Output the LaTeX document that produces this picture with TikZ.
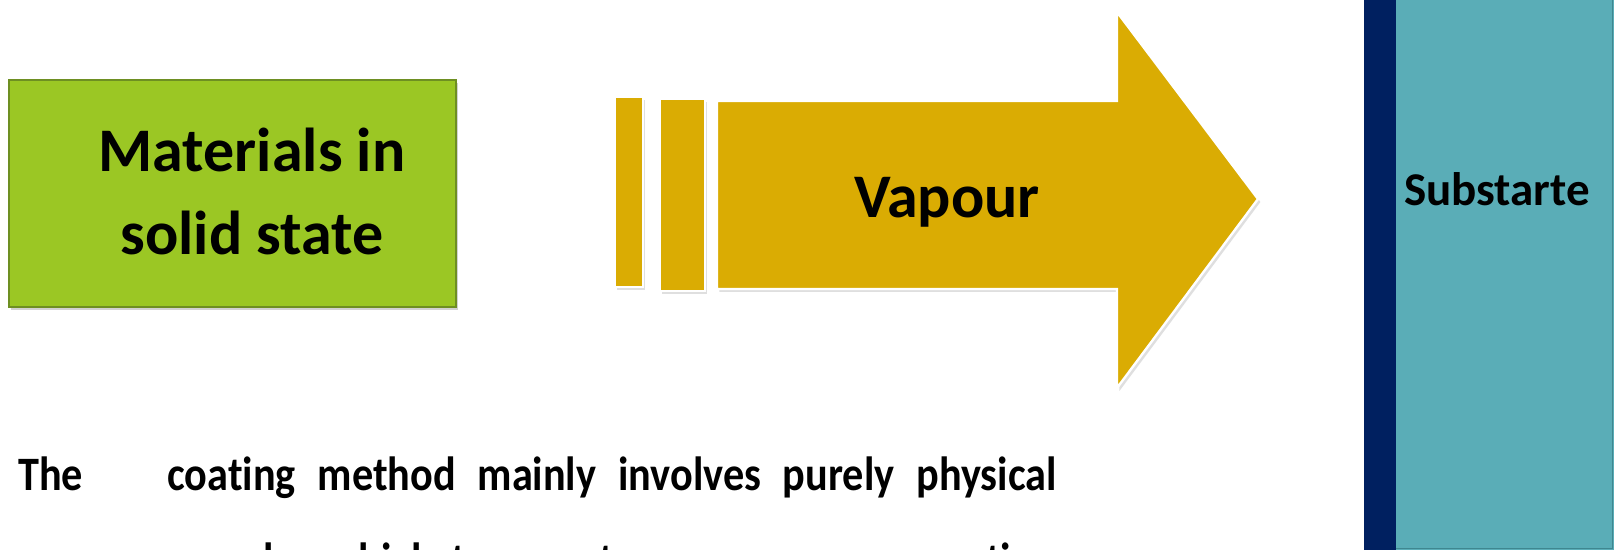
\documentclass[tikz,border=0pt]{standalone}
\usepackage{fontspec}
\setmainfont[Ligatures=NoCommon]{Carlito}
\newfontfamily\bodyfont[Ligatures=NoCommon,FakeStretch=0.88]{Carlito}
\usetikzlibrary{shadows}
\definecolor{greenfill}{HTML}{9BC724}
\definecolor{greenedge}{HTML}{6E8F22}
\definecolor{goldfill}{HTML}{DAAC03}
\definecolor{navyband}{HTML}{002060}
\definecolor{tealband}{HTML}{5AADB7}
\definecolor{tealedge}{HTML}{3F8790}
\begin{document}
\begin{tikzpicture}[x=0.5pt,y=-0.5pt,
  greenbox/.style={fill=greenfill,draw=greenedge,line width=1.2pt,
    drop shadow={shadow xshift=1pt,shadow yshift=-1.5pt,opacity=0.35}},
  goldshape/.style={fill=goldfill,draw=white,line width=1.2pt,
    drop shadow={shadow xshift=1.2pt,shadow yshift=-1.5pt,opacity=0.25}},
  bigtext/.style={font=\bfseries\fontsize{31}{36}\selectfont,anchor=base,inner sep=0pt},
  subtext/.style={font=\bfseries\fontsize{23.5}{28}\selectfont,anchor=base,inner sep=0pt},
  bodytext/.style={font=\bodyfont\bfseries\fontsize{24}{28}\selectfont,anchor=base west,inner sep=0pt}]
\useasboundingbox (0,0) rectangle (1614,550);
\clip (0,0) rectangle (1614,550);
\fill[white] (0,0) rectangle (1614,550);
% green box
\path[greenbox] (9,80) rectangle (456,307);
\node[bigtext] (mat1) at (252,172) {Materials in};
\node[bigtext] (mat2) at (252,255) {solid state};
% arrow
\path[goldshape] (615,97) rectangle (643,287);
\path[goldshape] (660,99) rectangle (705,291);
\path[goldshape] (717,101) -- (1117,101) -- (1117,12) -- (1258,199) -- (1117,388) -- (1117,289) -- (717,289) -- cycle;
\node[bigtext] (vap) at (947,218) {Vapour};
% substrate
\fill[navyband] (1364,-5) rectangle (1396,555);
\fill[tealband] (1396,-5) rectangle (1614,555);
\draw[tealedge,line width=0.8pt] (1612.5,-5) -- (1612.5,548.5) -- (1396,548.5);
\node[subtext] (sub) at (1497,206) {Substarte};
% text
\node[bodytext] (line1) at (18,491) {\makebox[519pt][s]{The\hspace{1.3em} coating method mainly involves purely physical}};
\node[bodytext] (line2) at (18,577) {\makebox[519pt][s]{processes such as high temperature vacuum evaporation}};
\end{tikzpicture}
\end{document}
